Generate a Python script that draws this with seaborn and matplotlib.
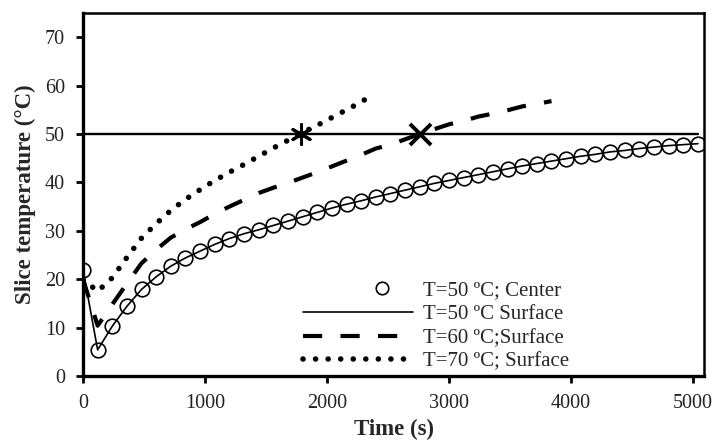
import numpy as np
import pandas as pd
import seaborn as sns
import matplotlib
matplotlib.use("Agg")
import matplotlib.pyplot as plt
from matplotlib.lines import Line2D
from matplotlib.legend_handler import HandlerLine2D

# ---- data -------------------------------------------------------------
# T = 50 ºC, slice centre (one reading every 120 s)
time_50 = [0, 120, 240, 360, 480, 600, 720, 840, 960, 1080, 1200, 1320, 1440,
           1560, 1680, 1800, 1920, 2040, 2160, 2280, 2400, 2520, 2640, 2760,
           2880, 3000, 3120, 3240, 3360, 3480, 3600, 3720, 3840, 3960, 4080,
           4200, 4320, 4440, 4560, 4680, 4800, 4920, 5040]
center_50 = [22.0, 5.4, 10.3, 14.4, 17.9, 20.5, 22.7, 24.4, 25.8, 27.2, 28.4,
             29.4, 30.2, 31.1, 32.0, 32.9, 33.8, 34.7, 35.5, 36.2, 37.0, 37.7,
             38.4, 39.1, 39.8, 40.4, 41.0, 41.6, 42.2, 42.8, 43.4, 43.9, 44.4,
             44.9, 45.4, 45.8, 46.3, 46.6, 47.0, 47.3, 47.6, 47.8, 48.0]
# T = 50 ºC, slice surface
surface_50 = [22.0, 5.4, 10.3, 14.4, 17.9, 20.5, 22.7, 24.4, 25.8, 27.2, 28.4,
              29.4, 30.2, 31.1, 32.0, 32.9, 33.8, 34.7, 35.5, 36.2, 37.0, 37.7,
              38.4, 39.1, 39.8, 40.4, 41.0, 41.6, 42.2, 42.8, 43.4, 43.9, 44.4,
              44.9, 45.4, 45.8, 46.3, 46.6, 47.0, 47.3, 47.6, 47.8, 48.0]

# T = 60 ºC, slice surface
time_60 = [0, 120, 240, 360, 480, 600, 720, 840, 960, 1080, 1200, 1320, 1440,
           1560, 1680, 1800, 1920, 2040, 2160, 2280, 2400, 2520, 2640, 2760,
           2880, 3000, 3120, 3240, 3360, 3480, 3600, 3720, 3840]
surface_60 = [20.0, 10.4, 14.8, 19.1, 23.3, 26.1, 28.6, 30.3, 31.8, 33.5,
              35.0, 36.4, 37.8, 38.9, 39.9, 41.0, 42.1, 43.3, 44.5, 45.7,
              47.0, 47.8, 48.9, 50.0, 51.0, 52.0, 52.7, 53.6, 54.2, 54.9,
              55.7, 56.2, 56.8]

# T = 70 ºC, slice surface
time_70 = [0, 120, 240, 360, 480, 600, 720, 840, 960, 1080, 1200, 1320, 1440,
           1560, 1680, 1800, 1920, 2040, 2160, 2280, 2310]
surface_70 = [20.0, 17.5, 20.3, 24.5, 28.5, 31.5, 34.2, 36.5, 38.5, 40.4,
              42.1, 43.7, 45.4, 47.1, 48.7, 50.3, 51.8, 53.4, 55.0, 56.6, 57.1]

# 50 ºC reference level and the times each surface reaches it
ref_time = [0, 5040]
ref_temp = [50, 50]
reach_time_70 = [1790]
reach_time_60 = [2760]
reach_temp = [50]

x_ticks = [0, 1000, 2000, 3000, 4000, 5000]
y_ticks = [0, 10, 20, 30, 40, 50, 60, 70]

# ---- style ------------------------------------------------------------
sns.set_theme(style="ticks")
plt.rcParams["font.family"] = ["Liberation Serif", "DejaVu Serif"]
plt.rcParams["font.size"] = 14

DASH_60 = (4.6, 4.4)
DOT_70 = (0.01, 2.25)
LW_60 = 3.0
LW_70 = 4.0

fig = plt.figure(figsize=(7.13, 4.44), dpi=100)
ax = fig.add_axes([83 / 713, 1 - 376 / 444, (704 - 83) / 713, (376 - 13) / 444])

# ---- series -----------------------------------------------------------
sns.lineplot(x=ref_time, y=ref_temp, ax=ax, color="black", linewidth=1.7,
             legend=False)
sns.lineplot(x=time_50, y=surface_50, ax=ax, color="black", linewidth=1.2,
             legend=False)
sns.lineplot(x=time_50, y=center_50, ax=ax, linestyle="none", marker="o",
             markersize=10.5, markerfacecolor="none", markeredgecolor="black",
             markeredgewidth=1.2, legend=False)

sns.lineplot(x=time_60, y=surface_60, ax=ax, color="black", linewidth=LW_60,
             legend=False)
line60 = ax.lines[-1]
line60.set_dashes(DASH_60)
line60.set_dash_capstyle("butt")

sns.lineplot(x=time_70, y=surface_70, ax=ax, color="black", linewidth=LW_70,
             legend=False)
line70 = ax.lines[-1]
line70.set_dashes(DOT_70)
line70.set_dash_capstyle("round")

sns.scatterplot(x=reach_time_70, y=reach_temp, ax=ax, marker=(6, 2, 0),
                s=200, color="black", linewidth=2.2, zorder=5, legend=False)
sns.scatterplot(x=reach_time_60, y=reach_temp, ax=ax, marker="x",
                s=230, color="black", linewidth=2.8, zorder=5, legend=False)

# ---- axes -------------------------------------------------------------
ax.set_xlim(0, 5090)
ax.set_ylim(0, 75)
ax.set_xticks(x_ticks)
ax.set_yticks(y_ticks)
ax.tick_params(axis="both", labelsize=14.5, length=5, width=2, color="black",
               labelcolor="#222222")
ax.tick_params(axis="x", pad=8)
ax.tick_params(axis="y", pad=8)
ax.set_xlabel("Time (s)", fontsize=16.5, fontweight="bold", labelpad=4)
ax.set_ylabel("Slice temperature (°C)", fontsize=16.5, fontweight="bold",
              labelpad=6)
for side in ["left", "bottom"]:
    ax.spines[side].set_linewidth(2.4)
for side in ["top", "right"]:
    ax.spines[side].set_linewidth(1.8)
for sp in ax.spines.values():
    sp.set_color("black")


class OffsetMarkerHandler(HandlerLine2D):
    """Marker-only legend entry drawn toward the right of the handle box."""

    def get_xdata(self, legend, xdescent, ydescent, width, height, fontsize):
        xdata = np.array([-xdescent + 0.44 * width, -xdescent + width])
        return xdata, np.array([-xdescent + 0.72 * width])


h_center = Line2D([], [], linestyle="none", marker="o", markersize=9,
                  markerfacecolor="none", markeredgecolor="black",
                  markeredgewidth=1.2)
h_s50 = Line2D([], [], color="black", linewidth=1.2)
h_s60 = Line2D([], [], color="black", linewidth=LW_60, dashes=DASH_60,
               dash_capstyle="butt")
h_s70 = Line2D([], [], color="black", linewidth=LW_70, dashes=DOT_70,
               dash_capstyle="round")
leg = ax.legend([h_center, h_s50, h_s60, h_s70],
                ["T=50 ºC; Center", "T=50 ºC Surface", "T=60 ºC;Surface",
                 "T=70 ºC; Surface"],
                handler_map={h_center: OffsetMarkerHandler(numpoints=1)},
                loc="lower left", bbox_to_anchor=(0.354, 0.012),
                frameon=False, fontsize=15, handlelength=5.3,
                handletextpad=0.45, labelspacing=0.2, borderpad=0,
                borderaxespad=0, numpoints=1)

fig.savefig("out.png", dpi=100)
